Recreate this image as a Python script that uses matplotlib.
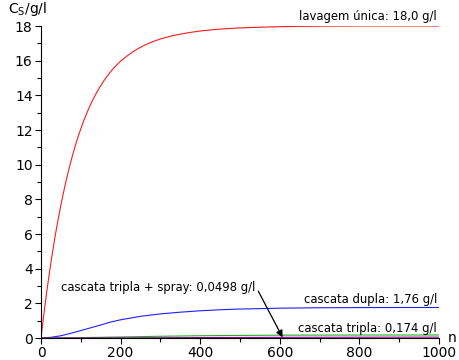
import matplotlib
matplotlib.use("Agg")
import matplotlib.pyplot as plt
from matplotlib.ticker import MultipleLocator

# Data
n_red = [0, 5, 10, 15, 20, 25, 30, 35, 40, 45, 50, 55, 60, 65, 70, 75, 80, 85, 90,
         95, 100, 110, 120, 130, 140, 150, 160, 170, 180, 190, 200, 215, 230, 245,
         260, 280, 300, 325, 350, 375, 400, 425, 450, 475, 500, 550, 600, 650, 700,
         800, 900, 1000]
c_red = [0, 0.97, 1.89, 2.76, 3.58, 4.36, 5.10, 5.80, 6.46, 7.08, 7.67, 8.23, 8.76,
         9.26, 9.73, 10.18, 10.60, 11.00, 11.38, 11.74, 12.07, 12.69, 13.24, 13.73,
         14.17, 14.56, 14.91, 15.22, 15.50, 15.75, 15.97, 16.25, 16.50, 16.71,
         16.89, 17.09, 17.25, 17.41, 17.53, 17.63, 17.71, 17.77, 17.82, 17.86,
         17.89, 17.93, 17.96, 17.98, 17.99, 18.0, 18.0, 18.0]

n_blue = [0, 25, 50, 75, 100, 125, 150, 175, 200, 250, 300, 350, 400, 450, 500,
          600, 700, 800, 900, 1000]
c_blue = [0, 0.04, 0.13, 0.27, 0.43, 0.59, 0.75, 0.92, 1.05, 1.25, 1.39, 1.49,
          1.57, 1.63, 1.67, 1.72, 1.745, 1.755, 1.76, 1.76]

n_green = [0, 50, 100, 150, 200, 300, 400, 500, 600, 700, 800, 900, 1000]
c_green = [0, 0.005, 0.02, 0.04, 0.06, 0.10, 0.13, 0.15, 0.162, 0.168, 0.172, 0.173, 0.174]

n_purple = [0, 100, 200, 300, 400, 500, 600, 700, 800, 900, 1000]
c_purple = [0, 0.002, 0.008, 0.016, 0.025, 0.032, 0.038, 0.043, 0.046, 0.048, 0.0498]

labels = ["lavagem única: 18,0 g/l", "cascata dupla: 1,76 g/l",
          "cascata tripla: 0,174 g/l", "cascata tripla + spray: 0,0498 g/l"]

fig = plt.figure(figsize=(4.59, 3.60), dpi=100)
ax = fig.add_axes([41/459, 22/360, 398/459, 312/360])

lw = 0.8
ax.plot(n_red, c_red, color="#ff1a1a", lw=lw)
ax.plot(n_blue, c_blue, color="#2020ff", lw=lw)
ax.plot(n_green, c_green, color="#20b020", lw=lw)
ax.plot(n_purple, c_purple, color="#900090", lw=lw)

ax.set_xlim(0, 1000)
ax.set_ylim(0, 18)
ax.xaxis.set_major_locator(MultipleLocator(200))
ax.xaxis.set_minor_locator(MultipleLocator(100))
ax.yaxis.set_major_locator(MultipleLocator(2))
ax.yaxis.set_minor_locator(MultipleLocator(1))
for s in ["top", "right"]:
    ax.spines[s].set_visible(False)
for s in ["left", "bottom"]:
    ax.spines[s].set_linewidth(0.8)
ax.tick_params(which="major", length=4, width=0.8, labelsize=10, direction="out", pad=2)
ax.tick_params(which="minor", length=3, width=0.8, direction="out")

fs = 8.4
ax.text(995, 18.15, labels[0], ha="right", va="bottom", fontsize=fs)
ax.text(995, 1.86, labels[1], ha="right", va="bottom", fontsize=fs)
ax.text(995, 0.2, labels[2], ha="right", va="bottom", fontsize=fs)
ax.text(538, 2.9, labels[3], ha="right", va="center", fontsize=fs)
ax.annotate("", xy=(607, c_purple[6]), xytext=(546, 2.7),
            arrowprops=dict(arrowstyle="-|>", color="black", lw=0.9,
                            mutation_scale=10, shrinkA=0, shrinkB=0))

fig.text(452/459, 1 - 338/360, "n", ha="center", va="center", fontsize=10)
fig.text(8/459, 1 - 9/360, r"C$_\mathregular{S}$/g/l", ha="left", va="center", fontsize=10)

fig.savefig("out.png", dpi=100)
